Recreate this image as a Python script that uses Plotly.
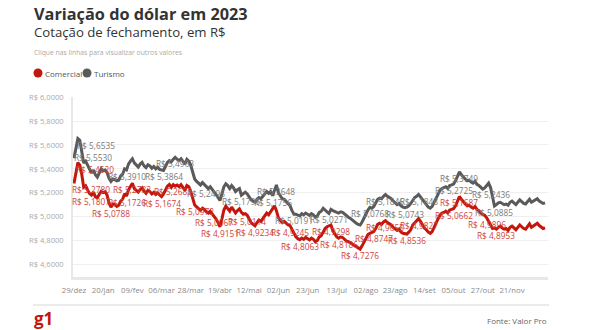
import plotly.graph_objects as go

# ---- data -----------------------------------------------------------------
# closing quotes (R$) per trading day, from 29/12/2022
comercial = [
    5.2780, 5.3575, 5.4520, 5.4313, 5.3551, 5.2452, 5.2576, 5.2230, 5.1926, 5.1807,
    5.2050, 5.1650, 5.1580, 5.1876, 5.2111, 5.2003, 5.2067, 5.1806, 5.1130, 5.0788,
    5.1040, 5.0980, 5.0850, 5.0950, 5.1290, 5.1450, 5.1920, 5.1726, 5.2230, 5.2520,
    5.2783, 5.2350, 5.2180, 5.2050, 5.2260, 5.2410, 5.2130, 5.1950, 5.2200, 5.2100,
    5.1900, 5.2030, 5.1850, 5.1980, 5.1820, 5.1674, 5.1900, 5.2280, 5.2550, 5.2690,
    5.2450, 5.2683, 5.2550, 5.2640, 5.2500, 5.2680, 5.2400, 5.2200, 5.2600, 5.2500,
    5.2100, 5.1500, 5.0972, 5.0820, 5.0650, 5.0520, 5.0710, 5.0600, 5.0400, 5.0300,
    5.0450, 5.0250, 5.0067, 4.9800, 4.9500, 4.9151, 4.9800, 5.0550, 5.0880, 5.0700,
    5.0450, 5.0800, 5.0600, 5.0300, 5.0500, 5.0650, 5.0350, 5.0200, 5.0250, 5.0114,
    4.9800, 4.9500, 4.9350, 4.9234, 4.9500, 4.9700, 4.9600, 4.9850, 5.0050, 5.0300,
    5.0150, 5.0400, 5.0650, 5.0900, 5.0500, 4.9900, 4.9700, 4.9500, 4.9600, 4.9400,
    4.9300, 4.9245, 4.8900, 4.8600, 4.8300, 4.8150, 4.8063, 4.8200, 4.8100, 4.8250,
    4.8150, 4.8050, 4.8200, 4.8100, 4.7900, 4.8000, 4.8300, 4.8400, 4.8700, 4.9000,
    4.9150, 4.9200, 4.9298, 4.8800, 4.8500, 4.8300, 4.8186, 4.8300, 4.8250, 4.8100,
    4.7950, 4.7900, 4.7800, 4.7650, 4.7600, 4.7450, 4.7400, 4.7276, 4.7550, 4.7850,
    4.8200, 4.8500, 4.8600, 4.8650, 4.8747, 4.9000, 4.9350, 4.9450, 4.9350, 4.9550,
    4.9655, 4.9500, 4.9400, 4.9300, 4.9100, 4.8950, 4.8850, 4.8950, 4.8700, 4.8600,
    4.8550, 4.8536, 4.8700, 4.8900, 4.9300, 4.9500, 4.9650, 4.9827, 4.9600, 4.9300,
    4.9050, 4.8900, 4.8700, 4.8600, 4.8750, 4.9100, 4.9500, 4.9800, 5.0100, 5.0300,
    5.0350, 5.0450, 5.0300, 5.0550, 5.0600, 5.0662, 5.0900, 5.1300, 5.1687, 5.1450,
    5.1200, 5.1050, 5.0900, 5.0950, 5.0800, 5.0700, 5.0850, 5.0600, 5.0500, 5.0300,
    5.0200, 5.0100, 4.9896, 4.9600, 4.9200, 4.9000, 4.9050, 4.8953, 4.9100, 4.9200,
    4.9050, 4.8950, 4.9000, 4.8850, 4.9100, 4.9200, 4.9050, 4.8900, 4.9100, 4.9300,
    4.9150, 4.9000, 4.8950, 4.9200, 4.9400, 4.9100, 4.9200, 4.9300, 4.9450, 4.9250,
    4.9100, 4.9000, 4.9050,
]

turismo = [
    5.4900, 5.5600, 5.6535, 5.6400, 5.5530, 5.4500, 5.4650, 5.4300, 5.3900, 5.3650,
    5.3900, 5.3500, 5.3300, 5.3700, 5.4000, 5.3850, 5.3900, 5.3700, 5.3200, 5.2950,
    5.3150, 5.3100, 5.3000, 5.3050, 5.3400, 5.3550, 5.4000, 5.3910, 5.4400, 5.4650,
    5.4850, 5.4500, 5.4300, 5.4150, 5.4400, 5.4550, 5.4250, 5.4100, 5.4350, 5.4250,
    5.4050, 5.4200, 5.4000, 5.4150, 5.3950, 5.3900, 5.3864, 5.4200, 5.4550, 5.4700,
    5.4600, 5.4800, 5.4963, 5.4800, 5.4700, 5.4850, 5.4600, 5.4400, 5.4800, 5.4650,
    5.4300, 5.3700, 5.3150, 5.2950, 5.2800, 5.2650, 5.2850, 5.2700, 5.2495, 5.2350,
    5.2500, 5.2300, 5.2100, 5.1850, 5.1600, 5.1350, 5.1900, 5.2500, 5.2750, 5.2600,
    5.2350, 5.2600, 5.2400, 5.2100, 5.2250, 5.2350, 5.1796, 5.1950, 5.2050, 5.1900,
    5.1600, 5.1400, 5.1300, 5.1200, 5.1450, 5.1600, 5.1500, 5.1700, 5.1850, 5.2100,
    5.1950, 5.2100, 5.1756, 5.2300, 5.2648, 5.2000, 5.1700, 5.1500, 5.1450, 5.1250,
    5.1100, 5.0900, 5.0500, 5.0191, 5.0200, 5.0100, 5.0050, 5.0250, 5.0150, 5.0300,
    5.0200, 5.0100, 5.0250, 5.0150, 4.9950, 5.0050, 5.0350, 5.0450, 5.0700, 5.0500,
    5.0400, 5.0271, 5.0600, 5.0500, 5.0400, 5.0350, 5.0300, 5.0400, 5.0350, 5.0200,
    5.0050, 4.9950, 4.9850, 4.9700, 4.9600, 4.9450, 4.9350, 4.9300, 4.9550, 4.9900,
    5.0250, 5.0550, 5.0768, 5.0700, 5.0850, 5.1100, 5.1450, 5.1550, 5.1500, 5.1700,
    5.1846, 5.1700, 5.1600, 5.1500, 5.1300, 5.1150, 5.1000, 5.1100, 5.0900, 5.0800,
    5.0743, 5.0800, 5.0900, 5.1100, 5.1400, 5.1600, 5.1700, 5.1848, 5.1650, 5.1400,
    5.1200, 5.1000, 5.0800, 5.0700, 5.0850, 5.1200, 5.1600, 5.1900, 5.2200, 5.2350,
    5.2400, 5.2500, 5.2350, 5.2600, 5.2650, 5.2725, 5.3000, 5.3400, 5.3749, 5.3500,
    5.3300, 5.3150, 5.3000, 5.3050, 5.2900, 5.2800, 5.2950, 5.2700, 5.2600, 5.2400,
    5.2300, 5.2400, 5.2600, 5.2800, 5.2436, 5.1500, 5.0885, 5.1000, 5.1150, 5.1200,
    5.1100, 5.1000, 5.1050, 5.0950, 5.1200, 5.1300, 5.1150, 5.1000, 5.1200, 5.1400,
    5.1250, 5.1100, 5.1050, 5.1300, 5.1450, 5.1200, 5.1300, 5.1400, 5.1500, 5.1300,
    5.1200, 5.1100, 5.1150,
]

# x-axis labels every 15 trading days
tick_labels = ["29/dez", "20/jan", "09/fev", "06/mar", "28/mar", "19/abr", "12/mai",
               "02/jun", "23/jun", "13/jul", "02/ago", "23/ago", "14/set", "05/out",
               "27/out", "21/nov"]
tick_step = 15

y_ticks = [4.6, 4.8, 5.0, 5.2, 5.4, 5.6, 5.8, 6.0]

# trading-day positions of the labelled quotes
comercial_labelled = [0, 2, 9, 19, 27, 30, 45, 51, 62, 72, 75, 89, 93, 111, 116,
                      132, 136, 147, 154, 160, 171, 177, 195, 198, 212, 217]
turismo_labelled = [2, 4, 27, 46, 52, 68, 86, 102, 104, 113, 131, 152, 160, 170,
                    177, 195, 198, 214, 216]

series_names = ["Comercial", "Turismo"]

# ---- styling ----------------------------------------------------------------
RED = "#c4170c"
RED_TXT = "#d0443a"
GREY = "#5a5a5a"
GREY_TXT = "#7a7a7a"
FONT = "Open Sans"

W, H = 590, 330
PL, PR, PT, PB = 73, 548, 97, 277          # plot box in pixels
# labels pushed right so they stay inside the plot near the left edge
label_nudge = {("c", 0): 17, ("c", 2): 17, ("t", 2): 18, ("t", 4): 11}


def fmt(v):
    return "R$ " + f"{v:.4f}".replace(".", ",")


def px(x):
    return (x - PL) / (PR - PL)


def py(y):
    return (PB - y) / (PB - PT)


n = len(comercial)
xs = list(range(n))

fig = go.Figure()
fig.add_trace(go.Scatter(x=xs, y=turismo, mode="lines", name=series_names[1],
                         line=dict(color=GREY, width=3), hoverinfo="skip"))
fig.add_trace(go.Scatter(x=xs, y=comercial, mode="lines", name=series_names[0],
                         line=dict(color=RED, width=3), hoverinfo="skip"))

annotations = []
for key, series, idxs, color in (("t", turismo, turismo_labelled, GREY_TXT),
                                 ("c", comercial, comercial_labelled, RED_TXT)):
    for i in idxs:
        annotations.append(dict(
            x=i, y=series[i], xref="x", yref="y", text=fmt(series[i]),
            showarrow=False, xanchor="center", yanchor="top",
            xshift=label_nudge.get((key, i), 0), yshift=1,
            font=dict(family=FONT, size=8.3, color=color)))

# header / footer texts
annotations += [
    dict(x=px(32), y=py(14), xref="paper", yref="paper", xanchor="left",
         yanchor="middle", showarrow=False,
         text="<b>Variação do dólar em 2023</b>",
         font=dict(family=FONT, size=16.3, color="#333333")),
    dict(x=px(32), y=py(32), xref="paper", yref="paper", xanchor="left",
         yanchor="middle", showarrow=False,
         text="Cotação de fechamento, em R$",
         font=dict(family=FONT, size=13.2, color="#333333")),
    dict(x=px(32), y=py(52), xref="paper", yref="paper", xanchor="left",
         yanchor="middle", showarrow=False,
         text="Clique nas linhas para visualizar outros valores",
         font=dict(family=FONT, size=6.8, color="#aaaaaa")),
    dict(x=px(32), y=py(318), xref="paper", yref="paper", xanchor="left",
         yanchor="middle", showarrow=False, text="<b>g1</b>",
         font=dict(family=FONT, size=17, color=RED)),
    dict(x=px(549), y=py(320), xref="paper", yref="paper", xanchor="right",
         yanchor="middle", showarrow=False, text="Fonte: Valor Pro",
         font=dict(family=FONT, size=8, color="#666666")),
]

shapes = [
    dict(type="line", xref="paper", yref="paper", x0=px(33), x1=px(549),
         y0=py(305), y1=py(305), line=dict(color="#d6d6d6", width=1)),
]

# legend: round swatch + series name
legend_items = [(38, 43, RED), (87, 92, GREY)]
for (cx, tx, col), name in zip(legend_items, series_names):
    shapes.append(dict(type="circle", xref="paper", yref="paper",
                       xsizemode="pixel", ysizemode="pixel",
                       xanchor=px(cx), yanchor=py(73),
                       x0=-4.5, x1=4.5, y0=-4.5, y1=4.5,
                       fillcolor=col, line=dict(width=0)))
    annotations.append(dict(x=px(tx), y=py(73), xref="paper", yref="paper",
                            xanchor="left", yanchor="middle", showarrow=False,
                            text=name,
                            font=dict(family=FONT, size=8, color="#555555")))

fig.update_layout(
    width=W, height=H,
    margin=dict(l=PL, r=W - PR, t=PT, b=H - PB, pad=0),
    paper_bgcolor="white", plot_bgcolor="white",
    font=dict(family=FONT),
    showlegend=False,
    annotations=annotations, shapes=shapes,
    xaxis=dict(range=[-0.5, 243.5], tickmode="array",
               tickvals=[k * tick_step for k in range(len(tick_labels))],
               ticktext=tick_labels, tickangle=0, showgrid=False,
               zeroline=False, showline=True, linecolor="#e8e8e8", linewidth=3,
               ticks="", ticklabelstandoff=4,
               tickfont=dict(family=FONT, size=7.8, color="#8a8a8a")),
    yaxis=dict(range=[4.494, 6.002], tickmode="array", tickvals=y_ticks,
               ticktext=[fmt(v) for v in y_ticks], showgrid=True,
               gridcolor="#efefef", gridwidth=1.2, zeroline=False,
               showline=True, linecolor="#e8e8e8", linewidth=1.5,
               ticks="", ticklabelstandoff=6,
               tickfont=dict(family=FONT, size=7.6, color="#aaaaaa")),
)

fig.write_html("out.html")
